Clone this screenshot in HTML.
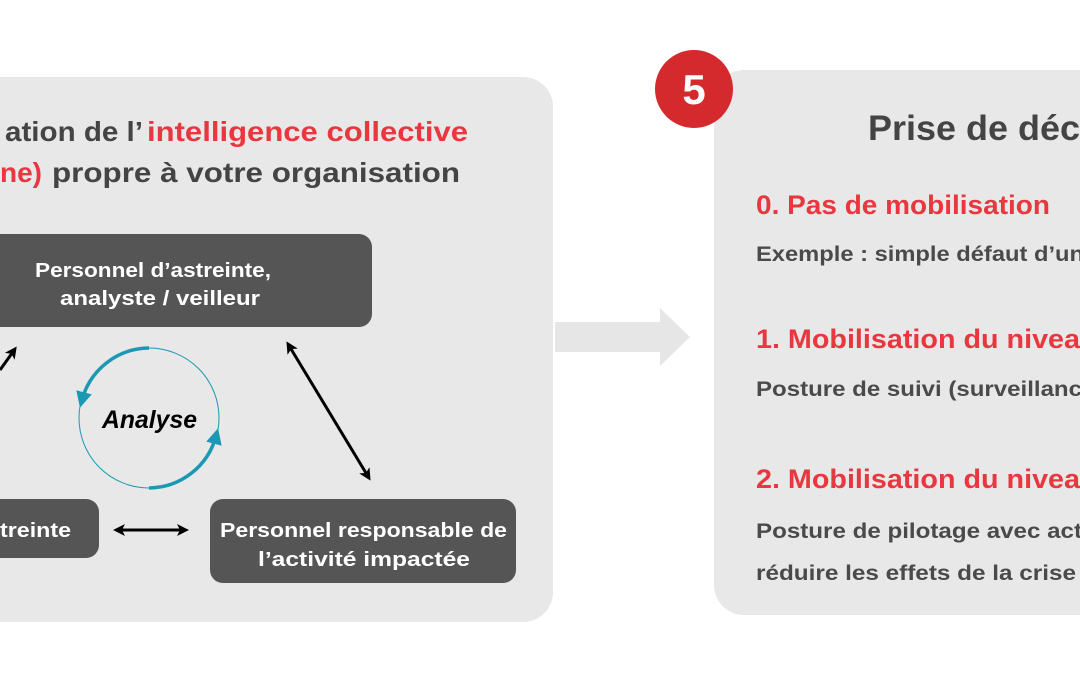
<!DOCTYPE html>
<html><head><meta charset="utf-8"><style>
html,body{margin:0;padding:0;background:#fff;width:1080px;height:675px;overflow:hidden}
svg{display:block}
text{font-family:"Liberation Sans",sans-serif;font-weight:bold}
</style></head><body>
<svg width="1080" height="675" viewBox="0 0 1080 675">
<defs>
<marker id="ah" markerWidth="12" markerHeight="12" refX="9" refY="6" orient="auto-start-reverse" markerUnits="userSpaceOnUse"><path d="M0,0 L12,6 L0,12 L3,6 Z" fill="#000"/></marker>
<marker id="bh" markerWidth="16" markerHeight="16" refX="8" refY="8" orient="auto" markerUnits="userSpaceOnUse"><path d="M0,0 L16,8 L0,16 Z" fill="#1b98b3"/></marker>
</defs>
<rect x="-40" y="77" width="593" height="545" rx="30" fill="#e8e8e8"/>
<rect x="714" y="70" width="420" height="545" rx="30" fill="#e8e8e8"/>
<circle cx="694" cy="89" r="39" fill="#d42a2e"/>
<text x="694" y="104" font-size="42" fill="#fff" text-anchor="middle">5</text>
<path d="M555,322 H660 V308 L690,337 L660,366 V352 H555 Z" fill="#e6e6e6"/>

<text y="141" font-size="28" fill="#444" x="5" textLength="138" lengthAdjust="spacingAndGlyphs">ation de l’</text>
<text y="141" font-size="28" fill="#e8373f" x="147" textLength="321" lengthAdjust="spacingAndGlyphs">intelligence collective</text>
<text y="182" font-size="28" fill="#e8373f" x="0" textLength="42" lengthAdjust="spacingAndGlyphs">ne)</text>
<text y="182" font-size="28" fill="#444" x="52" textLength="408" lengthAdjust="spacingAndGlyphs">propre à votre organisation</text>

<rect x="-40" y="234" width="412" height="93" rx="13" fill="#555"/>
<text x="35" y="277" font-size="20" fill="#fff" textLength="236" lengthAdjust="spacingAndGlyphs">Personnel d’astreinte,</text>
<text x="60" y="305" font-size="20" fill="#fff" textLength="200" lengthAdjust="spacingAndGlyphs">analyste / veilleur</text>
<rect x="-40" y="499" width="139" height="59" rx="13" fill="#555"/>
<text x="0" y="537" font-size="20" fill="#fff" textLength="71" lengthAdjust="spacingAndGlyphs">treinte</text>
<rect x="210" y="499" width="306" height="84" rx="13" fill="#555"/>
<text x="220" y="537" font-size="20" fill="#fff" textLength="287" lengthAdjust="spacingAndGlyphs">Personnel responsable de</text>
<text x="258" y="566" font-size="20" fill="#fff" textLength="212" lengthAdjust="spacingAndGlyphs">l’activité impactée</text>

<line x1="0" y1="370" x2="15" y2="349" stroke="#000" stroke-width="3" marker-end="url(#ah)"/>
<line x1="288" y1="344" x2="369" y2="478" stroke="#000" stroke-width="3" marker-start="url(#ah)" marker-end="url(#ah)"/>
<line x1="116" y1="530" x2="186" y2="530" stroke="#000" stroke-width="3" marker-start="url(#ah)" marker-end="url(#ah)"/>

<circle cx="149" cy="418" r="70" fill="none" stroke="#1b98b3" stroke-width="1"/>
<path d="M149,348 A70,70 0 0 0 82,400" fill="none" stroke="#1b98b3" stroke-width="3.5" marker-end="url(#bh)"/>
<path d="M149,488 A70,70 0 0 0 216,436" fill="none" stroke="#1b98b3" stroke-width="3.5" marker-end="url(#bh)"/>
<text x="102" y="428" font-size="25" font-style="italic" fill="#000" textLength="95" lengthAdjust="spacingAndGlyphs">Analyse</text>

<text x="868" y="140" font-size="35" fill="#444" textLength="212" lengthAdjust="spacingAndGlyphs">Prise de déc</text>
<text x="756" y="214" font-size="27" fill="#e8373f" textLength="294" lengthAdjust="spacingAndGlyphs">0. Pas de mobilisation</text>
<text x="756" y="261" font-size="21" fill="#4a4a4a" textLength="328" lengthAdjust="spacingAndGlyphs">Exemple : simple défaut d’un</text>
<text x="756" y="348" font-size="27" fill="#e8373f" textLength="324" lengthAdjust="spacingAndGlyphs">1. Mobilisation du nivea</text>
<text x="756" y="396" font-size="21" fill="#4a4a4a" textLength="326" lengthAdjust="spacingAndGlyphs">Posture de suivi (surveillanc</text>
<text x="756" y="488" font-size="27" fill="#e8373f" textLength="324" lengthAdjust="spacingAndGlyphs">2. Mobilisation du nivea</text>
<text x="756" y="538" font-size="21" fill="#4a4a4a" textLength="326" lengthAdjust="spacingAndGlyphs">Posture de pilotage avec act</text>
<text x="756" y="580" font-size="21" fill="#4a4a4a" textLength="320" lengthAdjust="spacingAndGlyphs">réduire les effets de la crise</text>
</svg>
</body></html>
